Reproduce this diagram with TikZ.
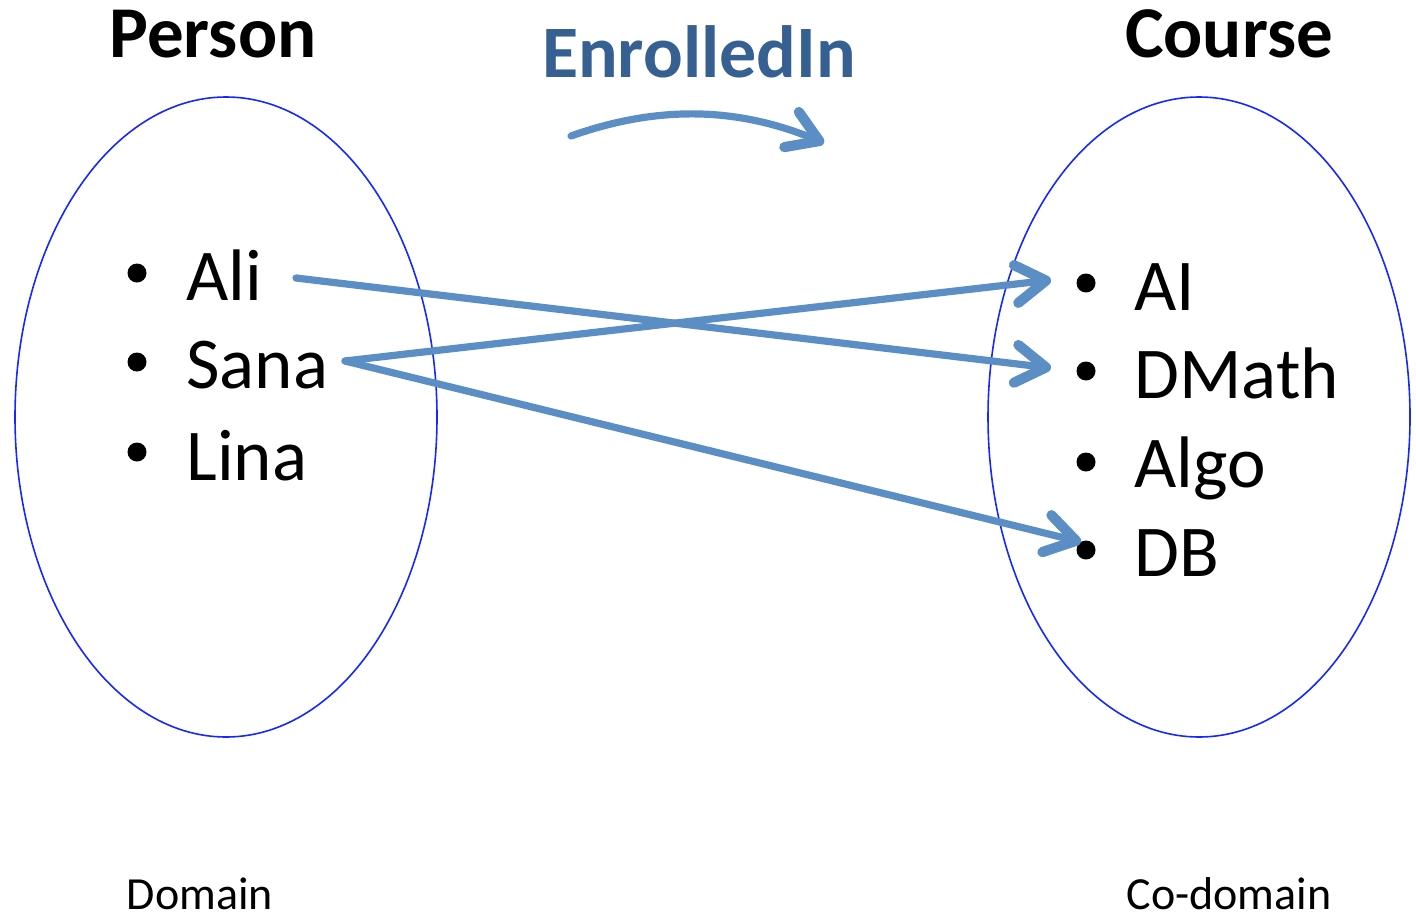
\documentclass[tikz,border=0pt]{standalone}
\usepackage{fontspec}
\setmainfont{Carlito}
\usetikzlibrary{arrows.meta}
\definecolor{arrowblue}{RGB}{90,142,197}
\definecolor{titleblue}{RGB}{55,96,146}
\definecolor{ringblue}{RGB}{20,40,255}
\begin{document}
\begin{tikzpicture}[x=0.5pt,y=-0.5pt,
  setring/.style={draw=ringblue,line width=0.8pt},
  item/.style={anchor=base west,inner sep=0pt,font=\fontsize{36.5}{40}\selectfont},
  dot/.style={circle,fill=black,inner sep=0pt,minimum size=9.5pt},
  heading/.style={anchor=base,inner sep=0pt,font=\fontsize{36.5}{40}\selectfont\bfseries},
  foot/.style={anchor=base,inner sep=0pt,font=\fontsize{23}{26}\selectfont},
  maparrow/.style={draw=arrowblue,line width=3.6pt,line cap=round,
    -{Straight Barb[length=15pt,width=19pt,line width=1.5pt 1,round]}}]
\useasboundingbox (0,0) rectangle (1416,920);
% sets
\draw[setring] (226,417) ellipse [x radius=211, y radius=320];
\draw[setring] (1199,417) ellipse [x radius=211, y radius=320];
% headings
\node[heading] (person) at (213,58) {Person};
\node[heading] (course) at (1229,58) {Course};
\node[heading,text=titleblue,font=\fontsize{37}{40}\selectfont\bfseries] (rel) at (699,77) {EnrolledIn};
% left items
\node[dot] (b1) at (137,273) {};
\node[dot] (b2) at (137,362) {};
\node[dot] (b3) at (137,452) {};
\node[item] (ali) at (186,300) {Ali};
\node[item] (sana) at (186,388) {Sana};
\node[item] (lina) at (186,480) {Lina};
% right items
\node[dot] (c1) at (1086,283) {};
\node[dot] (c2) at (1086,371) {};
\node[dot] (c3) at (1086,462) {};
\node[dot] (c4) at (1086,550) {};
\node[item] (ai) at (1134,310) {AI};
\node[item] (dmath) at (1134,398) {DMath};
\node[item] (algo) at (1134,487) {Algo};
\node[item] (db) at (1134,576) {DB};
% footers
\node[foot] (dom) at (200,909) {Domain};
\node[foot] (codom) at (1229,909) {Co-domain};
% connector end points
\coordinate (aliR) at (296,278);
\coordinate (sanaR) at (345,361);
\coordinate (toAI) at (1051,280);
\coordinate (toDM) at (1051,368);
\coordinate (toDB) at (1081,542);
\coordinate (cs) at (571,136);
\coordinate (ce) at (824,143);
% mapping arrows
\draw[maparrow] (aliR) -- (toDM);
\draw[maparrow] (sanaR) -- (toAI);
\draw[maparrow] (sanaR) -- (toDB);
\draw[maparrow] (cs) .. controls (650,108) and (730,104) .. (ce);
\end{tikzpicture}
\end{document}
